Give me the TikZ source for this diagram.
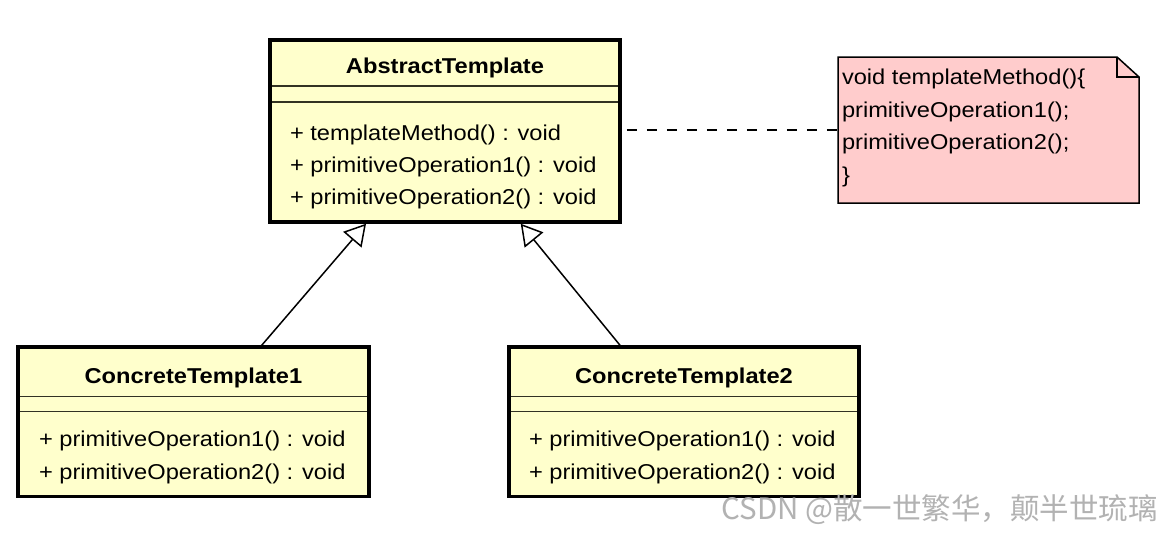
\documentclass[tikz,border=0pt]{standalone}
\usepackage{fontspec}
\setmainfont{Liberation Sans}[FakeStretch=1.1]
\newfontfamily\cjk{Noto Sans CJK SC}
\usetikzlibrary{arrows.meta}
\definecolor{classfill}{RGB}{255,255,204}
\definecolor{notefill}{RGB}{255,204,204}
\definecolor{sepline}{RGB}{50,50,35}
\begin{document}
\begin{tikzpicture}[x=1pt,y=-1pt,
  txt/.style={inner sep=0pt, outer sep=0pt, font=\fontsize{21.5}{25}\selectfont},
  titletxt/.style={txt, anchor=base, font=\fontsize{21.5}{25}\selectfont\bfseries},
  methodtxt/.style={txt, anchor=base west},
  classbox/.style={draw=black, line width=3.5pt, fill=classfill, rectangle, inner sep=0pt},
  sepstyle/.style={draw=sepline, line width=1.5pt},
  genline/.style={draw=black, line width=1.5pt, -{Triangle[open, length=21pt, width=24pt, fill=white]}},
  notelink/.style={draw=black, line width=1.5pt, dash pattern=on 10pt off 10pt, dash phase=15pt}
]
\useasboundingbox[fill=white] (0,0) rectangle (1173,533);

% AbstractTemplate
\node[classbox, minimum width=350pt, minimum height=182pt] (abs) at (445,131) {};
\draw[sepstyle] (271.75,86) -- (618.25,86);
\draw[sepstyle] (271.75,102) -- (618.25,102);
\node[titletxt] (absT) at (445,73.3) {AbstractTemplate};
\node[methodtxt] (absM1) at (290,140) {+ templateMethod() : void};
\node[methodtxt] (absM2) at (290,172.3) {+ primitiveOperation1() : void};
\node[methodtxt] (absM3) at (290,204.5) {+ primitiveOperation2() : void};

% ConcreteTemplate1
\node[classbox, minimum width=350.8pt, minimum height=149.5pt] (c1) at (193.4,421.75) {};
\draw[sepstyle] (19.75,396.7) -- (366.95,396.7);
\draw[sepstyle] (19.75,411.7) -- (366.95,411.7);
\node[titletxt] (c1T) at (193.4,383.3) {ConcreteTemplate1};
\node[methodtxt] (c1M1) at (39,446.7) {+ primitiveOperation1() : void};
\node[methodtxt] (c1M2) at (39,479) {+ primitiveOperation2() : void};

% ConcreteTemplate2
\node[classbox, minimum width=350pt, minimum height=149.5pt] (c2) at (684,421.75) {};
\draw[sepstyle] (510.75,396.7) -- (857.25,396.7);
\draw[sepstyle] (510.75,411.7) -- (857.25,411.7);
\node[titletxt] (c2T) at (684,383.3) {ConcreteTemplate2};
\node[methodtxt] (c2M1) at (529,446.7) {+ primitiveOperation1() : void};
\node[methodtxt] (c2M2) at (529,479) {+ primitiveOperation2() : void};

% Note
\node[rectangle, inner sep=0pt, outer sep=0pt, minimum width=301pt, minimum height=146pt] (note) at (988.5,130) {};
\draw[line width=1.5pt, fill=notefill, line join=miter]
  (note.north west) -- ([xshift=-22pt]note.north east) -- ([yshift=-20pt]note.north east)
  -- (note.south east) -- (note.south west) -- cycle;
\draw[line width=1.5pt]
  ([xshift=-22pt]note.north east) -- ([xshift=-22pt,yshift=-20pt]note.north east) -- ([yshift=-20pt]note.north east);
\node[methodtxt] (n1) at (842,84.5) {void templateMethod()\{};
\node[methodtxt] (n2) at (842,117) {primitiveOperation1();};
\node[methodtxt] (n3) at (842,149.5) {primitiveOperation2();};
\node[methodtxt] (n4) at (842,182) {\}};

% Connectors
\draw[notelink] ([yshift=1pt]abs.east) -- ([yshift=1pt]abs.east -| note.west);
\draw[genline] ([xshift=245.5pt]c1.north west) -- ([xshift=97.75pt]abs.south west);
\draw[genline] ([xshift=112.75pt]c2.north west) -- ([xshift=252.5pt]abs.south west);

% Watermark
\node[inner sep=0pt, anchor=base east, text=gray!60, font=\cjk\fontsize{29.5}{32}\selectfont] (wm) at (1158,519) {CSDN @散一世繁华，颠半世琉璃};
\end{tikzpicture}
\end{document}
